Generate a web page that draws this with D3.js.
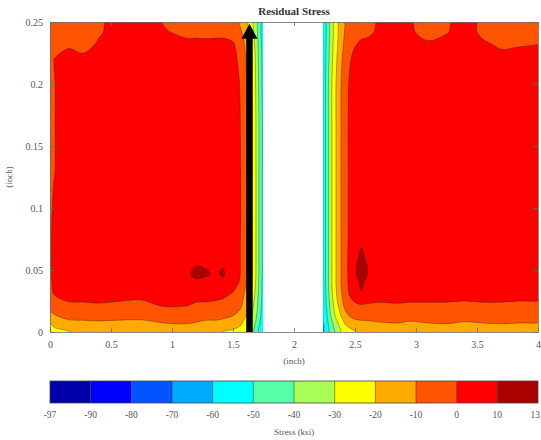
<!DOCTYPE html>
<html>
<head>
<meta charset="utf-8">
<script src="https://cdn.jsdelivr.net/npm/d3@7"></script>
<style>
  body { margin: 0; background: #fff; }
  text { font-family: "Liberation Serif", "Times New Roman", serif; }
</style>
</head>
<body>
<svg id="chart" width="541" height="440"></svg>
<script>
// Contour levels (ksi) and the jet-style fill colour of each band [level_i, level_i+1)
const levels = [-97, -90, -80, -70, -60, -50, -40, -30, -20, -10, 0, 10, 13];
const bandColors = ["#0000aa", "#0000ff", "#0055ff", "#00aaff", "#00ffff", "#55ffaa",
                    "#aaff55", "#ffff00", "#ffaa00", "#ff5500", "#ff0000", "#aa0000"];

// Measurement rows (inch, through thickness)
const rowY = [0, 0.006, 0.013, 0.022, 0.032, 0.04, 0.047, 0.055, 0.068, 0.09,
              0.13, 0.17, 0.2, 0.22, 0.232, 0.242, 0.25];

// Left plate: column positions (inch) and stress (ksi), one row per rowY entry
const leftX = [0, 0.03, 0.15, 0.27, 0.4, 0.55, 0.75, 0.95, 1.12, 1.2,
               1.28, 1.36, 1.42, 1.5, 1.56, 1.6, 1.64, 1.68, 1.71, 1.745];
const leftStress = [
  [-28, -24, -21, -19.5, -18, -18, -19, -18, -17, -18, -19, -19.5, -20.5, -22, -25, -30, -37, -45, -52, -58],
  [-22, -18, -14, -13, -12.5, -13, -13, -11, -10.5, -11.5, -13, -13, -14, -16, -19, -24, -31, -40, -48, -56],
  [-15, -11, -7, -7, -6.5, -7, -7.5, -4.5, -4.5, -6, -7, -7, -8, -10, -13, -19, -27, -36, -45, -55],
  [-8, -5, -1, -1, -0.5, -1, -1.5, 1, 0.5, -1, -1, -1.5, -2, -4, -8, -14, -23, -33, -43, -54],
  [-4, 1, 3, 3.5, 3.5, 3, 2.5, 3, 3.5, 4, 3.5, 3, 2, 0, -4, -11, -20, -30, -41, -53],
  [-2, 2, 5, 5, 5, 5, 5, 5, 7.5, 9, 8.5, 7.5, 8.5, 4, -1, -8, -17, -28, -40, -53],
  [-1.5, 2, 5, 5, 5, 5, 5.5, 6, 9, 11.5, 10.6, 9.2, 10.8, 5, 0, -7, -16, -27, -39, -52],
  [-1.5, 2, 5, 5, 5, 5, 5.5, 6, 8.5, 9.6, 9.3, 8, 9.4, 5, 0, -7, -16, -27, -39, -52],
  [-1.5, 2, 5, 5, 5, 5, 5, 5.5, 6.5, 7, 7, 6.5, 6.5, 5, 0, -7, -16, -27, -39, -52],
  [-1.5, 1.5, 5, 5, 5, 5, 5, 5, 5, 5, 5, 5, 5, 5, 0.5, -6.5, -16, -27, -39, -52],
  [-2, -0.5, 5, 5, 5, 5, 5, 5, 5, 5, 5, 5, 5, 5, 0.5, -6.5, -16, -27, -39, -52],
  [-2, -0.5, 5, 5, 5, 5, 5, 5, 5, 5, 5, 5, 5, 5, 0, -7, -16, -27, -39, -52],
  [-2.5, -0.5, 4.5, 5, 5, 5, 5, 5, 5, 5, 5, 5, 5, 4, -0.5, -7.5, -17, -28, -40, -53],
  [-3, 0, 2.5, 2, 4, 5, 5, 4, 3.5, 3.5, 3.5, 3.5, 3.5, 2.5, -2, -9, -18, -29, -41, -53],
  [-3.5, -2, -1, -3, 1, 4, 4, 2.5, 2, 2, 2, 2, 2, 1, -4, -11, -20, -31, -42, -54],
  [-4, -4, -4, -5, -1, 3, 3, 0.5, -2, -2, -2.5, -2, -2, -4, -8, -14, -23, -33, -44, -55],
  [-5, -5, -5, -5, -2, 3, 2, -1, -3, -3, -3.5, -3, -3, -7, -12, -17, -26, -35, -46, -56]
];

// Right plate: column positions (inch) and stress (ksi)
const rightX = [2.24, 2.27, 2.3, 2.34, 2.38, 2.42, 2.46, 2.5, 2.55, 2.61,
                2.7, 2.85, 2.95, 3.1, 3.25, 3.4, 3.55, 3.7, 3.85, 4.0];
const rightStress = [
  [-62, -56, -49, -40, -32, -26, -23, -21, -20, -19, -18, -17, -18, -17, -16, -18, -17, -16, -17, -18],
  [-61, -53, -45, -35, -27, -20, -17, -15, -14, -13, -12, -11, -12.5, -11, -10.5, -12, -11, -10.5, -11, -12],
  [-60, -51, -40, -29, -21, -13, -9, -7, -6, -6, -5.5, -5, -6, -5.5, -5, -6, -5.5, -5, -5.5, -6],
  [-59, -48, -37, -25, -15, -7, -2.5, -1, 0, -0.5, -1, -0.5, -1, -1, -1, -1.5, -1, -1, -1.5, -2],
  [-58, -46, -34, -22, -12, -4, 1.5, 4, 9.8, 5, 4, 4, 4, 4, 4, 3.5, 4, 4, 3.5, 3],
  [-58, -45, -33, -21, -11, -3, 2.5, 8, 11, 8.5, 6, 5, 5, 5, 5, 5, 5, 5, 5, 4.5],
  [-58, -45, -33, -21, -11, -3, 3, 9.6, 11.5, 9.8, 6.5, 5, 5, 5, 5, 5, 5, 5, 5, 4.5],
  [-58, -45, -33, -21, -11, -3, 3, 9.4, 11.3, 9.6, 6.5, 5, 5, 5, 5, 5, 5, 5, 5, 4.5],
  [-58, -45, -33, -21, -11, -3, 2.5, 8, 10.1, 8.5, 6, 5, 5, 5, 5, 5, 5, 5, 5, 4.5],
  [-58, -45, -33, -21, -11, -3, 2, 5, 7, 6, 5, 5, 5, 5, 5, 5, 5, 5, 5, 4.5],
  [-58, -45, -33, -21, -11, -3, 2, 5, 5, 5, 5, 5, 5, 5, 5, 5, 5, 5, 5, 4.5],
  [-58, -45, -33, -21, -11, -3, 2, 5, 5, 5, 5, 5, 5, 5, 5, 5, 5, 5, 5, 4.5],
  [-58, -45, -33, -21, -11, -3.5, 1.5, 4.5, 5, 5, 5, 5, 5, 5, 5, 5, 5, 5, 5, 4.5],
  [-59, -46, -35, -23, -13, -5, -0.5, 2.5, 3, 3.5, 4, 5, 4, 3, 4, 5, 3.5, 2, 2.5, 3],
  [-59, -47, -36, -24, -15, -7, -3, -0.5, 1, 1.5, 3, 4, 3, 1, 2.5, 4, 1, -1, -0.5, 0],
  [-60, -48, -37, -25, -16, -9, -5, -2.5, -1.5, -1, 1, 3, 1, -2.5, -0.5, 3, -1.5, -3, -3, -2.5],
  [-60, -49, -38, -26, -17, -10, -6, -4, -3, -2, 0.5, 3, 0.5, -3, -1.5, 3, -2, -4, -4, -4]
];

// Axis ticks
const xTicks = [0, 0.5, 1, 1.5, 2, 2.5, 3, 3.5, 4];
const yTicks = [0, 0.05, 0.1, 0.15, 0.2, 0.25];

// Measurement-path arrow (inch)
const arrowX = 1.635;
const arrowFrom = 0;
const arrowTo = 0.2485;

const svg = d3.select("#chart");
const x = d3.scaleLinear().domain([0, 4]).range([50, 538]);
const y = d3.scaleLinear().domain([0, 0.25]).range([332, 22]);
const axisColor = "#6b6b6b";
const textColor = "#555";

const plot = svg.append("g");
const defs = svg.append("defs");

// Closed smooth outline for each contour ring
const ringLine = d3.line().curve(d3.curveCatmullRomClosed.alpha(0.5));

function drawPanel(xs, grid, id) {
  const n = xs.length, m = rowY.length;
  const values = grid.flat();
  // grid sample i sits at contour coordinate i + 0.5
  const gx = d3.scaleLinear()
    .domain([0, ...xs.map((_, i) => i + 0.5), n])
    .range([xs[0], ...xs, xs[n - 1]].map(x));
  const gy = d3.scaleLinear()
    .domain([0, ...rowY.map((_, j) => j + 0.5), m])
    .range([rowY[0], ...rowY, rowY[m - 1]].map(y));
  const contours = d3.contours().size([n, m]).thresholds(levels.slice(0, -1))(values);

  const x0 = x(xs[0]), x1 = x(xs[n - 1]);
  defs.append("clipPath").attr("id", id)
    .append("rect").attr("x", x0).attr("y", y(0.25)).attr("width", x1 - x0).attr("height", y(0) - y(0.25));
  const g = plot.append("g").attr("clip-path", `url(#${id})`);

  contours.forEach((c, k) => {
    if (!c.coordinates.length) return;
    let d;
    if (k === 0) {
      d = `M${x0},${y(0.25)}H${x1}V${y(0)}H${x0}Z`;
    } else {
      d = c.coordinates.map(poly => poly.map(ring => {
        const pts = ring.slice(0, -1).map(([a, b]) => [gx(a), gy(b)]);
        // keep straight runs along the plate border sharp by padding border points outward
        const padded = pts.map(([px, py]) => [
          px <= x0 + 0.01 ? px - 3 : px >= x1 - 0.01 ? px + 3 : px,
          py <= y(0.25) + 0.01 ? py - 3 : py >= y(0) - 0.01 ? py + 3 : py
        ]);
        return ringLine(padded);
      }).join("")).join("");
    }
    g.append("path")
      .attr("d", d)
      .attr("fill", bandColors[k])
      .attr("fill-rule", "evenodd")
      .attr("stroke", k === 0 ? "none" : "#111")
      .attr("stroke-opacity", 0.55)
      .attr("stroke-width", 0.6);
  });
}

drawPanel(leftX, leftStress, "clipLeft");
drawPanel(rightX, rightStress, "clipRight");

// Arrow along the measurement line
const ax = x(arrowX);
const headLen = 15, headHalf = 8, shaftW = 6.5;
plot.append("rect")
  .attr("x", ax - shaftW / 2)
  .attr("y", y(arrowTo) + headLen - 1)
  .attr("width", shaftW)
  .attr("height", y(arrowFrom) - y(arrowTo) - headLen + 1)
  .attr("fill", "#000");
plot.append("path")
  .attr("d", `M${ax},${y(arrowTo)} L${ax + headHalf},${y(arrowTo) + headLen} L${ax - headHalf},${y(arrowTo) + headLen} Z`)
  .attr("fill", "#000");

// Axes (box with inward ticks)
const fmt = d => String(d);
const xAxis = svg.append("g").attr("transform", `translate(0,${y(0)})`)
  .call(d3.axisBottom(x).tickValues(xTicks).tickFormat(fmt).tickSizeInner(-4).tickSizeOuter(0).tickPadding(9));
const xAxisTop = svg.append("g").attr("transform", `translate(0,${y(0.25)})`)
  .call(d3.axisTop(x).tickValues(xTicks).tickFormat("").tickSizeInner(-4).tickSizeOuter(0));
const yAxis = svg.append("g").attr("transform", `translate(${x(0)},0)`)
  .call(d3.axisLeft(y).tickValues(yTicks).tickFormat(fmt).tickSizeInner(-4).tickSizeOuter(0).tickPadding(7));
const yAxisRight = svg.append("g").attr("transform", `translate(${x(4)},0)`)
  .call(d3.axisRight(y).tickValues(yTicks).tickFormat("").tickSizeInner(-4).tickSizeOuter(0));

[xAxis, xAxisTop, yAxis, yAxisRight].forEach(a => {
  a.select(".domain").attr("stroke", axisColor).attr("stroke-width", 0.8);
  a.selectAll(".tick line").attr("stroke", axisColor).attr("stroke-width", 0.8);
  a.selectAll(".tick text").attr("fill", textColor).style("font-size", "10px")
    .style("font-family", '"Liberation Serif", serif');
});

// Titles
svg.append("text").attr("x", 294).attr("y", 15).attr("text-anchor", "middle")
  .style("font-size", "11px").style("font-weight", "bold").attr("fill", "#333")
  .text("Residual Stress");
svg.append("text").attr("x", x(2)).attr("y", 364).attr("text-anchor", "middle")
  .style("font-size", "9px").attr("fill", textColor).text("(inch)");
svg.append("text").attr("transform", `translate(12,${y(0.125)}) rotate(-90)`)
  .attr("text-anchor", "middle").style("font-size", "9px").attr("fill", textColor).text("(inch)");

// Colour bar
const cb = d3.scaleLinear().domain([0, levels.length - 1]).range([50, 538]);
const cbTop = 381, cbH = 22;
const cbar = svg.append("g");
cbar.selectAll("rect.band").data(bandColors).join("rect")
  .attr("class", "band")
  .attr("x", (d, i) => cb(i)).attr("y", cbTop)
  .attr("width", (d, i) => cb(i + 1) - cb(i)).attr("height", cbH)
  .attr("fill", d => d);
cbar.selectAll("line.sep").data(levels.slice(1, -1)).join("line")
  .attr("class", "sep")
  .attr("x1", (d, i) => cb(i + 1)).attr("x2", (d, i) => cb(i + 1))
  .attr("y1", cbTop).attr("y2", cbTop + cbH)
  .attr("stroke", "#222").attr("stroke-opacity", 0.6).attr("stroke-width", 0.8);
cbar.append("rect").attr("x", cb(0)).attr("y", cbTop)
  .attr("width", cb(levels.length - 1) - cb(0)).attr("height", cbH)
  .attr("fill", "none").attr("stroke", "#444").attr("stroke-width", 0.8);
const lastIdx = levels.length - 1;
cbar.selectAll("text.lv").data(levels).join("text")
  .attr("class", "lv")
  .attr("x", (d, i) => i === lastIdx ? 540 : cb(i)).attr("y", 418)
  .attr("text-anchor", (d, i) => i === lastIdx ? "end" : "middle")
  .style("font-size", "9.5px").attr("fill", textColor).text(d => d);
svg.append("text").attr("x", 294).attr("y", 435).attr("text-anchor", "middle")
  .style("font-size", "9px").attr("fill", textColor).text("Stress (ksi)");
</script>
</body>
</html>
